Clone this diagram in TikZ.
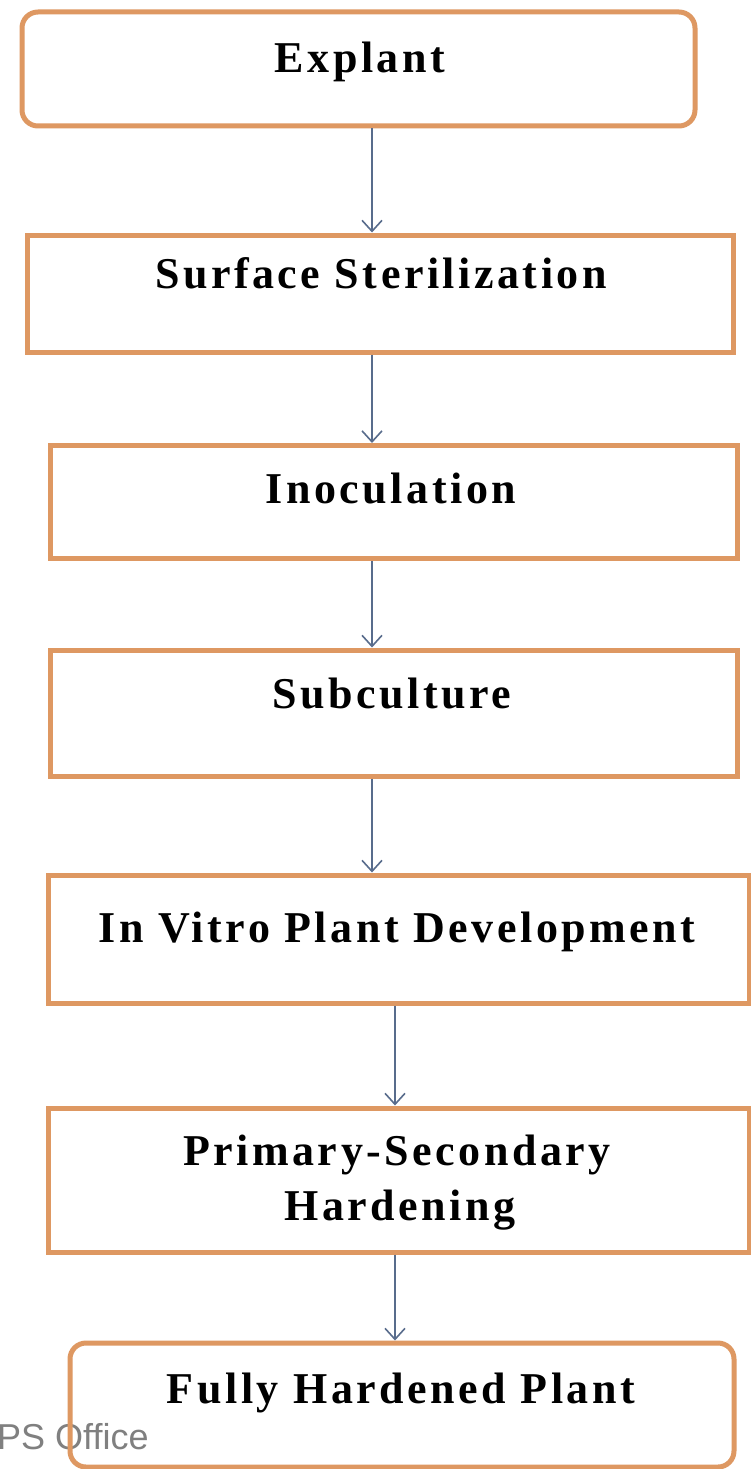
\documentclass[tikz,border=0pt]{standalone}
\usepackage{fontspec}
\setmainfont{Liberation Serif}
\newfontfamily\boxfont[LetterSpace=8]{Liberation Serif}
\newfontfamily\wmfont{Liberation Sans}
\usetikzlibrary{arrows.meta}
\definecolor{boxorange}{RGB}{222,152,98}
\definecolor{arrowblue}{RGB}{88,108,140}
\definecolor{wmgray}{RGB}{128,128,128}
\tikzset{
  stepbox/.style={draw=boxorange, line width=5pt, inner sep=0pt, rectangle},
  roundbox/.style={stepbox, rounded corners=16pt},
  lbl/.style={font=\boxfont\bfseries\fontsize{44}{50}\selectfont, inner sep=0pt, anchor=base, text=black},
  arr/.style={draw=arrowblue, line width=1.8pt, -{Straight Barb[length=11pt,width=20pt,line width=1.6pt]}},
  wm/.style={font=\wmfont\fontsize{36}{40}\selectfont, text=wmgray, inner sep=0pt, anchor=base west}
}
\begin{document}
\begin{tikzpicture}[x=1pt,y=-1pt]
\useasboundingbox[fill=white] (0,0) rectangle (751,1469);
% watermark (under the last box border)
\node[wm] (wm) at (-3,1449) {PS Office};
% boxes
\node[roundbox, minimum width=673pt, minimum height=114pt] (b1) at (358.5,69) {};
\node[stepbox, minimum width=706pt, minimum height=117pt] (b2) at (380,293.5) {};
\node[stepbox, minimum width=687pt, minimum height=113pt] (b3) at (393.5,502) {};
\node[stepbox, minimum width=687pt, minimum height=126pt] (b4) at (393.5,713) {};
\node[stepbox, minimum width=701pt, minimum height=128pt] (b5) at (398.5,939) {};
\node[stepbox, minimum width=701pt, minimum height=144pt] (b6) at (398.5,1180) {};
\node[roundbox, minimum width=664pt, minimum height=124pt] (b7) at (402,1405) {};
% texts
\node[lbl] (t1) at (360,73) {Explant};
\node[lbl] (t2) at (381,288) {Surface Sterilization};
\node[lbl] (t3) at (391,503) {Inoculation};
\node[lbl] (t4) at (392,708) {Subculture};
\node[lbl] (t5) at (397,942) {In Vitro Plant Development};
\node[lbl] (t6a) at (397,1165) {Primary-Secondary};
\node[lbl] (t6b) at (400,1220) {Hardening};
\node[lbl] (t7) at (401,1403) {Fully Hardened Plant};
% arrows
\coordinate (ax1) at (372,0);
\coordinate (ax2) at (395,0);
\draw[arr] (b1.south -| ax1) -- (b2.north -| ax1);
\draw[arr] (b2.south -| ax1) -- (b3.north -| ax1);
\draw[arr] (b3.south -| ax1) -- (b4.north -| ax1);
\draw[arr] (b4.south -| ax1) -- (b5.north -| ax1);
\draw[arr] (b5.south -| ax2) -- (b6.north -| ax2);
\draw[arr] (b6.south -| ax2) -- (b7.north -| ax2);
\end{tikzpicture}
\end{document}
